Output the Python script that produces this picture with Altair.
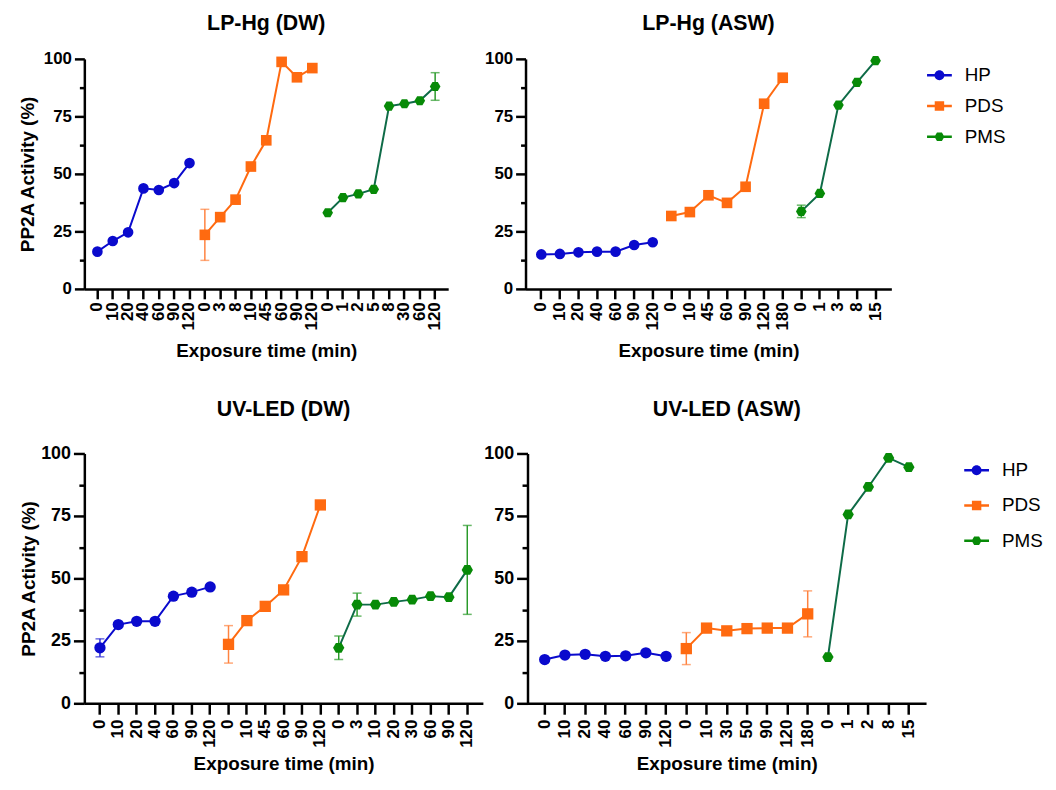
import altair as alt
import pandas as pd

SERIES = ["HP", "PDS", "PMS"]
MARKER_COLORS = ["#0A0ACD", "#FF6A10", "#078A07"]
LINE_COLORS = ["#0A0ACD", "#FF6A10", "#0E6B47"]
ERR_COLORS = ["#2C2CD6", "#FF8340", "#2A9A2A"]
HEX = "M1,0L0.5,0.866L-0.5,0.866L-1,0L-0.5,-0.866L0.5,-0.866Z"
BAR = "M-1,-0.1L1,-0.1L1,0.1L-1,0.1Z"
LEG_SHAPES = [
    BAR + "M0.4,0A0.4,0.4 0 1,1 -0.4,0A0.4,0.4 0 1,1 0.4,0Z",
    BAR + "M-0.38,-0.38L0.38,-0.38L0.38,0.38L-0.38,0.38Z",
    BAR + "M0.4,0L0.2,0.34L-0.2,0.34L-0.4,0L-0.2,-0.34L0.2,-0.34Z",
]

# ---- LP-Hg (DW)
p1_hp_t = ["0", "10", "20", "40", "60", "90", "120"]
p1_hp_v = [16.2, 20.8, 24.6, 43.7, 43.0, 46.0, 54.7]
p1_hp_e = [0, 0, 0, 0, 0, 0, 0]
p1_pds_t = ["0", "3", "8", "10", "45", "60", "90", "120"]
p1_pds_v = [23.5, 31.2, 38.8, 53.2, 64.6, 98.7, 92.0, 96.0]
p1_pds_e = [11.1, 0, 0, 0, 0, 0, 0, 0]
p1_pms_t = ["0", "1", "2", "5", "8", "30", "60", "120"]
p1_pms_v = [33.1, 39.7, 41.3, 43.3, 79.5, 80.5, 81.8, 88.0]
p1_pms_e = [0, 0, 0, 0, 0, 0, 0, 6.0]

# ---- LP-Hg (ASW)
p2_hp_t = ["0", "10", "20", "40", "60", "90", "120"]
p2_hp_v = [15.0, 15.2, 15.9, 16.2, 16.2, 19.1, 20.3]
p2_hp_e = [0, 0, 0, 0, 0, 0, 0]
p2_pds_t = ["0", "10", "45", "60", "90", "120", "180"]
p2_pds_v = [31.7, 33.4, 40.7, 37.4, 44.4, 80.5, 91.8]
p2_pds_e = [0, 0, 0, 0, 0, 0, 0]
p2_pms_t = ["0", "1", "3", "8", "15"]
p2_pms_v = [33.7, 41.5, 79.9, 89.8, 99.2]
p2_pms_e = [2.7, 0, 0, 0, 0]

# ---- UV-LED (DW)
p3_hp_t = ["0", "10", "20", "40", "60", "90", "120"]
p3_hp_v = [22.2, 31.5, 32.8, 32.8, 42.9, 44.5, 46.6]
p3_hp_e = [3.6, 0, 0, 0, 0, 0, 0]
p3_pds_t = ["0", "10", "45", "60", "90", "120"]
p3_pds_v = [23.6, 33.1, 38.8, 45.4, 58.7, 79.4]
p3_pds_e = [7.5, 0, 0, 0, 0, 0]
p3_pms_t = ["0", "3", "10", "20", "30", "60", "90", "120"]
p3_pms_v = [22.2, 39.5, 39.5, 40.6, 41.5, 42.9, 42.5, 53.4]
p3_pms_e = [4.7, 4.6, 0, 0, 0, 0, 0, 17.8]

# ---- UV-LED (ASW)
p4_hp_t = ["0", "10", "20", "40", "60", "90", "120"]
p4_hp_v = [17.5, 19.3, 19.6, 18.8, 19.0, 20.2, 18.8]
p4_hp_e = [0, 0, 0, 0, 0, 0, 0]
p4_pds_t = ["0", "10", "30", "50", "90", "120", "180"]
p4_pds_v = [21.9, 30.1, 29.0, 29.9, 30.1, 30.1, 35.8]
p4_pds_e = [6.4, 0, 0, 0, 0, 0, 9.2]
p4_pms_t = ["0", "1", "2", "8", "15"]
p4_pms_v = [18.5, 75.6, 86.6, 98.2, 94.5]
p4_pms_e = [0, 0, 0, 0, 0]

Y_ALL = [0, 12.5, 25, 37.5, 50, 62.5, 75, 87.5, 100]


def make_df(groups):
    rows = []
    for s, (times, vals, errs) in zip(SERIES, groups):
        for t, v, e in zip(times, vals, errs):
            rows.append({"series": s, "time": t, "key": f"{s}|{t}",
                         "value": v, "err": e, "lo": v - e, "hi": v + e})
    return pd.DataFrame(rows)


def panel(df, title, width, height, y_title, legend, xc, yc, title_offset, msize):
    keys = list(df["key"])
    x = alt.X("key:O", sort=keys, scale=alt.Scale(padding=0.7),
              axis=alt.Axis(title="Exposure time (min)",
                            labelExpr="split(datum.label, '|')[1]",
                            labelAngle=-90, labelOverlap=False, labelFontSize=17,
                            tickSize=xc[0], labelPadding=xc[1], titlePadding=xc[2]))
    yaxis = alt.Axis(title="PP2A Activity (%)" if y_title else None,
                     values=Y_ALL,
                     labelExpr="datum.value % 25 == 0 ? datum.label : ''",
                     tickSize=alt.condition("datum.value % 25 == 0", alt.value(yc[0]), alt.value(yc[0] / 2)),
                     labelFontSize=yc[1], labelPadding=3, titlePadding=yc[2])
    yscale = alt.Scale(domain=[0, 100], nice=False)

    def Y(f):
        return alt.Y(f"{f}:Q", scale=yscale, axis=yaxis, title="PP2A Activity (%)")

    base = alt.Chart(df)
    line = base.mark_line(strokeWidth=2).encode(
        x=x, y=Y("value"),
        color=alt.Color("series:N", scale=alt.Scale(domain=SERIES, range=LINE_COLORS), legend=None))
    errc = alt.Color("series:N", scale=alt.Scale(domain=SERIES, range=ERR_COLORS), legend=None)
    ebase = base.transform_filter("datum.err > 0")
    erule = ebase.mark_rule(strokeWidth=1.5).encode(x=x, y=Y("lo"), y2="hi:Q", color=errc)
    ecap1 = ebase.mark_tick(thickness=1.5, size=9).encode(x=x, y=Y("lo"), color=errc)
    ecap2 = ebase.mark_tick(thickness=1.5, size=9).encode(x=x, y=Y("hi"), color=errc)
    pts = base.mark_point(filled=True, opacity=1, size=msize).encode(
        x=x, y=Y("value"),
        color=alt.Color("series:N", scale=alt.Scale(domain=SERIES, range=MARKER_COLORS), legend=None),
        shape=alt.Shape("series:N", scale=alt.Scale(domain=SERIES, range=["circle", "square", HEX]), legend=None))
    layers = [line, erule, ecap1, ecap2, pts]
    if legend is not None:
        leg = alt.Legend(title=None, symbolOpacity=1, symbolSize=625, symbolStrokeWidth=0,
                         labelFontSize=19, labelFontWeight="normal", labelOffset=legend[2],
                         offset=legend[0], rowPadding=legend[1], padding=legend[3])
        lg = base.mark_point(filled=True, opacity=0, size=10).encode(
            x=x, y=Y("value"),
            color=alt.Color("series:N", scale=alt.Scale(domain=SERIES, range=MARKER_COLORS), legend=leg),
            shape=alt.Shape("series:N", scale=alt.Scale(domain=SERIES, range=LEG_SHAPES), legend=leg))
        layers.append(lg)
    return alt.layer(*layers).resolve_scale(color="independent", shape="independent").properties(
        width=width, height=height,
        title=alt.TitleParams(title, fontSize=21.5, fontWeight="bold", anchor="middle", offset=title_offset))


df1 = make_df([(p1_hp_t, p1_hp_v, p1_hp_e), (p1_pds_t, p1_pds_v, p1_pds_e), (p1_pms_t, p1_pms_v, p1_pms_e)])
df2 = make_df([(p2_hp_t, p2_hp_v, p2_hp_e), (p2_pds_t, p2_pds_v, p2_pds_e), (p2_pms_t, p2_pms_v, p2_pms_e)])
df3 = make_df([(p3_hp_t, p3_hp_v, p3_hp_e), (p3_pds_t, p3_pds_v, p3_pds_e), (p3_pms_t, p3_pms_v, p3_pms_e)])
df4 = make_df([(p4_hp_t, p4_hp_v, p4_hp_e), (p4_pds_t, p4_pds_v, p4_pds_e), (p4_pms_t, p4_pms_v, p4_pms_e)])

c1 = panel(df1, "LP-Hg (DW)", 367, 232, True, None, (10, 3, 12), (10, 17, 6), 16, 115)
c2 = panel(df2, "LP-Hg (ASW)", 369, 232, False, (32, 8, 13, 4), (10, 3, 12), (10, 17, 6), 16, 115)
c3 = panel(df3, "UV-LED (DW)", 402, 252, True, None, (11, 5, 7), (11, 18, 2), 24, 130)
c4 = panel(df4, "UV-LED (ASW)", 402, 252, False, (33.5, 12.5, 13, 4.5), (11, 5, 7), (11, 18, 2), 24, 130)

row1 = alt.hconcat(c1, c2, spacing=78, bounds="flush")
row2 = alt.hconcat(c3, c4, spacing=45, bounds="flush")
chart = alt.vconcat(row1, row2, spacing=38).properties(
    padding={"left": 10, "top": 1, "right": 0, "bottom": 0}
).configure(font="Liberation Sans").configure_view(stroke=None).configure_axis(
    domainColor="black", domainWidth=2.5, tickColor="black", tickWidth=2.5,
    labelColor="black", labelFontSize=17, labelFontWeight="bold",
    titleColor="black", titleFontSize=19, titleFontWeight="bold", grid=False,
).configure_legend(labelColor="black")

chart.save("out.html", embed_options={"renderer": "svg", "actions": False})
